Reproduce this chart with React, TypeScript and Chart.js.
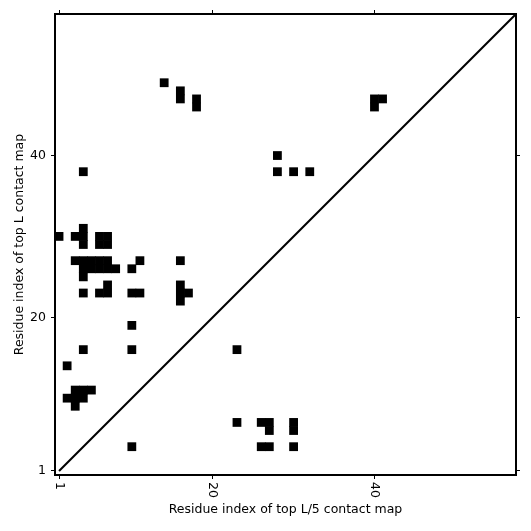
import React, { useEffect, useRef } from "react";
import { Chart, registerables } from "chart.js";

Chart.register(...registerables);

const AXIS_MIN = 0.5;
const AXIS_MAX = 57.5;
const tickValues = [1, 20, 40];
const xTitle = "Residue index of top L/5 contact map";
const yTitle = "Residue index of top L contact map";
const FONT = "'DejaVu Sans', sans-serif";
const FONT_SIZE = 12.5;

// top L contacts (upper triangle): residue i (x) vs residue j (y)
const topLI = [1, 3, 4, 4, 4, 6, 7, 6, 7, 3, 4, 5, 6, 7, 11, 16, 4, 5, 6, 7, 8, 10, 4, 7, 16, 4, 6, 7, 10, 11, 16, 17, 16, 10, 4, 10, 2, 3, 4, 5, 2, 3, 4, 3, 4, 14, 16, 16, 18, 18, 40, 41, 40, 28, 28, 30, 32];
const topLJ = [30, 30, 31, 30, 29, 30, 30, 29, 29, 27, 27, 27, 27, 27, 27, 27, 26, 26, 26, 26, 26, 26, 25, 24, 24, 23, 23, 23, 23, 23, 23, 23, 22, 19, 16, 16, 14, 11, 11, 11, 10, 10, 10, 9, 38, 49, 48, 47, 47, 46, 47, 47, 46, 40, 38, 38, 38];

// top L/5 contacts (lower triangle)
const topL5I = [10, 23, 23, 26, 27, 27, 30, 30, 26, 27, 30];
const topL5J = [4, 16, 7, 7, 7, 6, 7, 6, 4, 4, 4];

const diagonalValues = [1, AXIS_MAX];

const cellRadius = (ctx: any) => {
  const s = ctx.chart.scales.x;
  if (!s) return 4;
  const side = Math.abs(s.getPixelForValue(1) - s.getPixelForValue(0)) + 0.7;
  return side / Math.SQRT2;
};

const setTicks = (s: any) => {
  s.ticks = tickValues.map((v) => ({ value: v }));
};

const gridOpts = {
  display: true,
  drawOnChartArea: false,
  drawTicks: true,
  tickLength: 4,
  tickWidth: 1,
  tickColor: "#000",
  color: "#000",
};

const borderOpts = { display: true, color: "#000", width: 2 };

const xLabelPlugin = {
  id: "xLabelPlugin",
  afterDraw(chart: any) {
    const xs = chart.scales.x;
    const ctx = chart.ctx;
    ctx.save();
    ctx.fillStyle = "#000";
    ctx.font = `${FONT_SIZE}px ${FONT}`;
    ctx.textAlign = "left";
    ctx.textBaseline = "middle";
    for (const v of tickValues) {
      const px = xs.getPixelForValue(v);
      ctx.save();
      ctx.translate(px, xs.top + 7);
      ctx.rotate(Math.PI / 2);
      ctx.fillText(String(v), 0, 0);
      ctx.restore();
    }
    ctx.restore();
  },
};

export default function App() {
  const ref = useRef<HTMLCanvasElement | null>(null);
  useEffect(() => {
    if (!ref.current) return;
    Chart.defaults.font.family = FONT;
    const chart = new Chart(ref.current, {
      type: "scatter",
      data: {
        datasets: [
          {
            label: "top L",
            data: topLI.map((x, k) => ({ x, y: topLJ[k] })),
            pointStyle: "rect",
            radius: cellRadius,
            backgroundColor: "#000",
            borderWidth: 0,
          },
          {
            label: "top L/5",
            data: topL5I.map((x, k) => ({ x, y: topL5J[k] })),
            pointStyle: "rect",
            radius: cellRadius,
            backgroundColor: "#000",
            borderWidth: 0,
          },
          {
            type: "line",
            label: "diagonal",
            data: diagonalValues.map((v) => ({ x: v, y: v })),
            borderColor: "#000",
            borderWidth: 2,
            pointRadius: 0,
            showLine: true,
            fill: false,
          } as any,
        ],
      },
      options: {
        animation: false,
        responsive: true,
        maintainAspectRatio: false,
        events: [],
        layout: { padding: 0 },
        plugins: { legend: { display: false }, tooltip: { enabled: false } },
        scales: {
          x: {
            type: "linear",
            position: "bottom",
            min: AXIS_MIN,
            max: AXIS_MAX,
            afterBuildTicks: setTicks,
            afterFit: (s: any) => {
              s.height = 56;
            },
            ticks: { display: false },
            grid: gridOpts,
            border: borderOpts,
            title: {
              display: true,
              text: xTitle,
              color: "#000",
              font: { size: FONT_SIZE, family: FONT },
              padding: { top: 0, bottom: 13.5 },
            },
          },
          y: {
            type: "linear",
            position: "left",
            min: AXIS_MIN,
            max: AXIS_MAX,
            afterBuildTicks: setTicks,
            afterFit: (s: any) => {
              s.width = 55;
            },
            ticks: { color: "#000", font: { size: FONT_SIZE, family: FONT }, padding: 5 },
            grid: gridOpts,
            border: borderOpts,
            title: {
              display: true,
              text: yTitle,
              color: "#000",
              font: { size: FONT_SIZE, family: FONT },
              padding: { top: 12.5, bottom: 0 },
            },
          },
          x2: {
            axis: "x",
            type: "linear",
            position: "top",
            min: AXIS_MIN,
            max: AXIS_MAX,
            afterBuildTicks: setTicks,
            afterFit: (s: any) => {
              s.height = 14;
            },
            ticks: { display: false },
            grid: gridOpts,
            border: borderOpts,
          },
          y2: {
            axis: "y",
            type: "linear",
            position: "right",
            min: AXIS_MIN,
            max: AXIS_MAX,
            afterBuildTicks: setTicks,
            afterFit: (s: any) => {
              s.width = 15;
            },
            ticks: { display: false },
            grid: gridOpts,
            border: borderOpts,
          },
        } as any,
      },
      plugins: [xLabelPlugin],
    });
    return () => chart.destroy();
  }, []);
  return (
    <div style={{ position: "fixed", left: 0, top: 0, width: 531, height: 531, background: "#fff" }}>
      <canvas ref={ref} />
    </div>
  );
}
